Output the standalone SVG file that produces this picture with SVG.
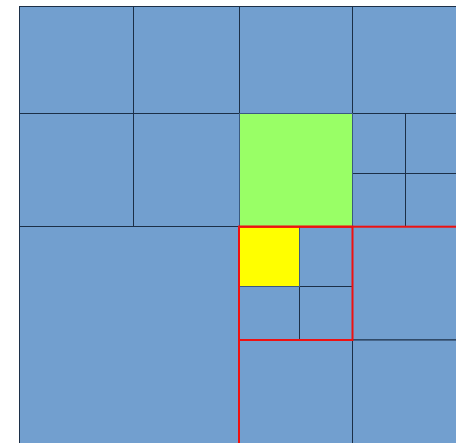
<svg xmlns="http://www.w3.org/2000/svg" width="456" height="443" viewBox="0 0 456 443">
<style>
.c{fill:#729fcf;stroke:#1c2f47;stroke-width:1}
.g{fill:#99ff66;stroke:#3a5a80;stroke-width:1}
.y{fill:#ffff00;stroke:#3a5a80;stroke-width:1}
.r{fill:none;stroke:#ee1111;stroke-width:2}
</style>
<rect width="456" height="443" fill="#ffffff"/>
<g id="cells">
<g id="n1"><rect class="c" x="19.5" y="6.5" width="114" height="107"/></g>
<g id="n2"><rect class="c" x="133.5" y="6.5" width="106" height="107"/></g>
<g id="n3"><rect class="c" x="19.5" y="113.5" width="114" height="113"/></g>
<g id="n4"><rect class="c" x="133.5" y="113.5" width="106" height="113"/></g>
<g id="n5"><rect class="c" x="239.5" y="6.5" width="113" height="107"/></g>
<g id="n6"><rect class="c" x="352.5" y="6.5" width="110" height="107"/></g>
<g id="n8"><rect class="c" x="352.5" y="113.5" width="53" height="60"/></g>
<g id="n9"><rect class="c" x="405.5" y="113.5" width="57" height="60"/></g>
<g id="n10"><rect class="c" x="352.5" y="173.5" width="53" height="53"/></g>
<g id="n11"><rect class="c" x="405.5" y="173.5" width="57" height="53"/></g>
<g id="n12"><rect class="c" x="19.5" y="226.5" width="220" height="222"/></g>
<g id="n14"><rect class="c" x="299.5" y="226.5" width="53" height="60"/></g>
<g id="n15"><rect class="c" x="239.5" y="286.5" width="60" height="53.5"/></g>
<g id="n16"><rect class="c" x="299.5" y="286.5" width="53" height="53.5"/></g>
<g id="n17"><rect class="c" x="352.5" y="226.5" width="110" height="113.5"/></g>
<g id="n18"><rect class="c" x="239.5" y="340" width="113" height="110"/></g>
<g id="n19"><rect class="c" x="352.5" y="340" width="110" height="110"/></g>
<g id="n7"><rect class="g" x="239.5" y="113.5" width="113" height="113"/></g>
<g id="n13"><rect class="y" x="239.5" y="226.5" width="60" height="60"/></g>
</g>
<g id="connectors">
<rect class="r" x="239" y="226.7" width="113.5" height="113.3"/>
<rect class="r" x="239" y="226.7" width="230" height="230"/>
</g>
</svg>
